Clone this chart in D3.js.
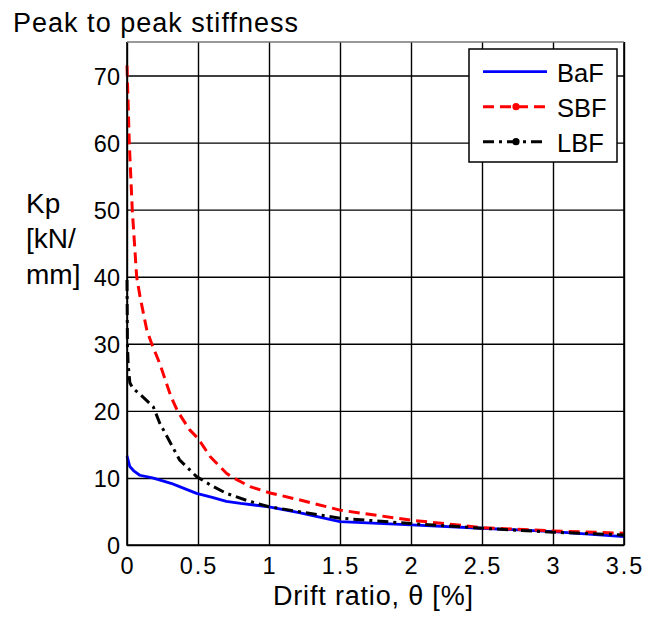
<!DOCTYPE html>
<html>
<head>
<meta charset="utf-8">
<script src="https://cdn.jsdelivr.net/npm/d3@7"></script>
<style>
  body { margin: 0; background: #fff; }
  svg text { font-family: "Liberation Sans", Arial, sans-serif; fill: #000; }
</style>
</head>
<body>
<svg width="647" height="617"></svg>
<script>
// =====================================================================
// Data: drift ratio (%) vs peak to peak stiffness
// (kN/mm) for the three frames.
// =====================================================================
const bafX = [0, 0.02, 0.05, 0.09, 0.18, 0.31, 0.37, 0.49, 0.6, 0.7, 0.8, 1.0, 1.22, 1.5, 2.0, 2.5, 3.0, 3.5];
const bafY = [13.3, 11.7, 11.0, 10.4, 10.0, 9.2, 8.7, 7.7, 7.1, 6.5, 6.2, 5.7, 4.8, 3.5, 3.0, 2.5, 2.0, 1.25];

const sbfX = [0, 0.016, 0.037, 0.051, 0.068, 0.092, 0.139, 0.174, 0.23, 0.31, 0.355, 0.44, 0.5, 0.585, 0.7, 0.75, 0.867, 1.0, 1.22, 1.5, 2.0, 2.5, 3.0, 3.5];
const sbfY = [71.5, 60, 50, 45.5, 40, 37, 32.1, 30, 27.1, 22.1, 20, 17.2, 15.9, 13.2, 10.7, 10.0, 8.7, 7.8, 6.7, 5.2, 3.7, 2.6, 2.1, 1.75];

const lbfX = [0, 0.003, 0.008, 0.02, 0.04, 0.1, 0.185, 0.23, 0.37, 0.49, 0.6, 0.7, 0.85, 1.0, 1.5, 2.0, 2.5, 3.0, 3.5];
const lbfY = [39.5, 30, 27, 24.2, 23.4, 22.3, 20.6, 18.2, 12.7, 10.2, 8.8, 7.7, 6.6, 5.7, 4.0, 3.2, 2.5, 1.9, 1.5];

const xTicks = [0, 0.5, 1, 1.5, 2, 2.5, 3, 3.5];
const yTicks = [0, 10, 20, 30, 40, 50, 60, 70];

const seriesNames = ["BaF", "SBF", "LBF"];

// =====================================================================
// Layout of the axes box, matching the MATLAB style export.
// =====================================================================
let svg     = d3.select("svg"),
    plotL   = 127,
    plotR   = 624,
    plotT   = 42,
    plotB   = 545,
    x       = d3.scaleLinear().domain([0, 3.5]).range([plotL, plotR]),
    y       = d3.scaleLinear().domain([0, 75]).range([plotB, plotT]),
    styles  = [
      {color: "#0000ff", dash: null,        width: 2.8, dot: false},
      {color: "#ff0000", dash: "11,6",      width: 3,   dot: true},
      {color: "#000000", dash: "11,5,3,5",  width: 3,   dot: true}
    ],
    series  = [
      d3.zip(bafX, bafY),
      d3.zip(sbfX, sbfY),
      d3.zip(lbfX, lbfY)
    ];

// Grid lines, drawn through the axes' tick generator
svg.append("g")
    .attr("transform", `translate(0, ${plotB})`)
    .call(d3.axisBottom(x).tickValues(xTicks).tickSize(-(plotB - plotT)).tickFormat(""))
  .call(g => g.select(".domain").remove())
  .selectAll("line")
    .attr("stroke", "#000")
    .attr("stroke-width", 1.4);

svg.append("g")
    .attr("transform", `translate(${plotL}, 0)`)
    .call(d3.axisLeft(y).tickValues(yTicks).tickSize(-(plotR - plotL)).tickFormat(""))
  .call(g => g.select(".domain").remove())
  .selectAll("line")
    .attr("stroke", "#000")
    .attr("stroke-width", 1.4);

// Tick labels. The export spaces the decimal point out a bit, so the
// decimal labels get stretched a few pixels.
svg.append("g")
  .selectAll("text")
  .data(xTicks)
  .enter().append("text")
    .attr("x", d => x(d))
    .attr("y", 574)
    .attr("text-anchor", "middle")
    .style("font-size", "23.5px")
    .text(d => d)
    .each(function(d) {
      if (String(d).includes(".")) {
        d3.select(this)
          .attr("textLength", this.getComputedTextLength() + 4)
          .attr("lengthAdjust", "spacing");
      }
    });

svg.append("g")
  .selectAll("text")
  .data(yTicks)
  .enter().append("text")
    .attr("x", 120)
    .attr("y", d => y(d) + 9)
    .attr("text-anchor", "end")
    .style("font-size", "23.5px")
    .text(d => d);

// The curves
let line = d3.line().x(d => x(d[0])).y(d => y(d[1]));

svg.append("g")
  .selectAll("path")
  .data(series)
  .enter().append("path")
    .attr("d", line)
    .attr("fill", "none")
    .attr("stroke", (d, i) => styles[i].color)
    .attr("stroke-width", (d, i) => styles[i].width)
    .attr("stroke-dasharray", (d, i) => styles[i].dash)
    .attr("stroke-linejoin", "round");

// Axes frame (top edge is lighter in the export)
svg.append("path")
    .attr("d", `M${plotL},${plotT}V${plotB}H${plotR}V${plotT}`)
    .attr("fill", "none")
    .attr("stroke", "#000")
    .attr("stroke-width", 1.6);
svg.append("line")
    .attr("x1", plotL).attr("x2", plotR)
    .attr("y1", plotT).attr("y2", plotT)
    .attr("stroke", "#777")
    .attr("stroke-width", 1.4);

// Legend
let legend = svg.append("g");
legend.append("rect")
    .attr("x", 469).attr("y", 49)
    .attr("width", 148).attr("height", 113)
    .attr("fill", "#fff")
    .attr("stroke", "#000")
    .attr("stroke-width", 1.5);

let entries = legend.selectAll("g.entry")
  .data(seriesNames)
  .enter().append("g")
    .attr("class", "entry")
    .attr("transform", (d, i) => `translate(0, ${71.7 + i * 35})`);

entries.append("line")
    .attr("x1", 483).attr("x2", 547)
    .attr("stroke", (d, i) => styles[i].color)
    .attr("stroke-width", (d, i) => styles[i].width)
    .attr("stroke-dasharray", (d, i) => styles[i].dash);

entries.filter((d, i) => styles[i].dot)
  .append("circle")
    .attr("cx", 516)
    .attr("r", 3.6)
    .attr("fill", d => styles[seriesNames.indexOf(d)].color);

entries.append("text")
    .attr("x", 557)
    .attr("y", 10)
    .style("font-size", "25.5px")
    .text(d => d);

// Titles
svg.append("text")
    .attr("x", 13).attr("y", 32)
    .attr("textLength", 285)
    .attr("lengthAdjust", "spacing")
    .style("font-size", "27px")
    .text("Peak to peak stiffness");

svg.append("text")
    .attr("x", 273).attr("y", 605)
    .attr("textLength", 200)
    .attr("lengthAdjust", "spacing")
    .style("font-size", "27px")
    .text("Drift ratio, θ [%]");

svg.append("text")
    .style("font-size", "28px")
  .selectAll("tspan")
  .data(["Kp", "[kN/", "mm]"])
  .enter().append("tspan")
    .attr("x", 26)
    .attr("y", (d, i) => 212.5 + i * 35.5)
    .text(d => d);
</script>
</body>
</html>
